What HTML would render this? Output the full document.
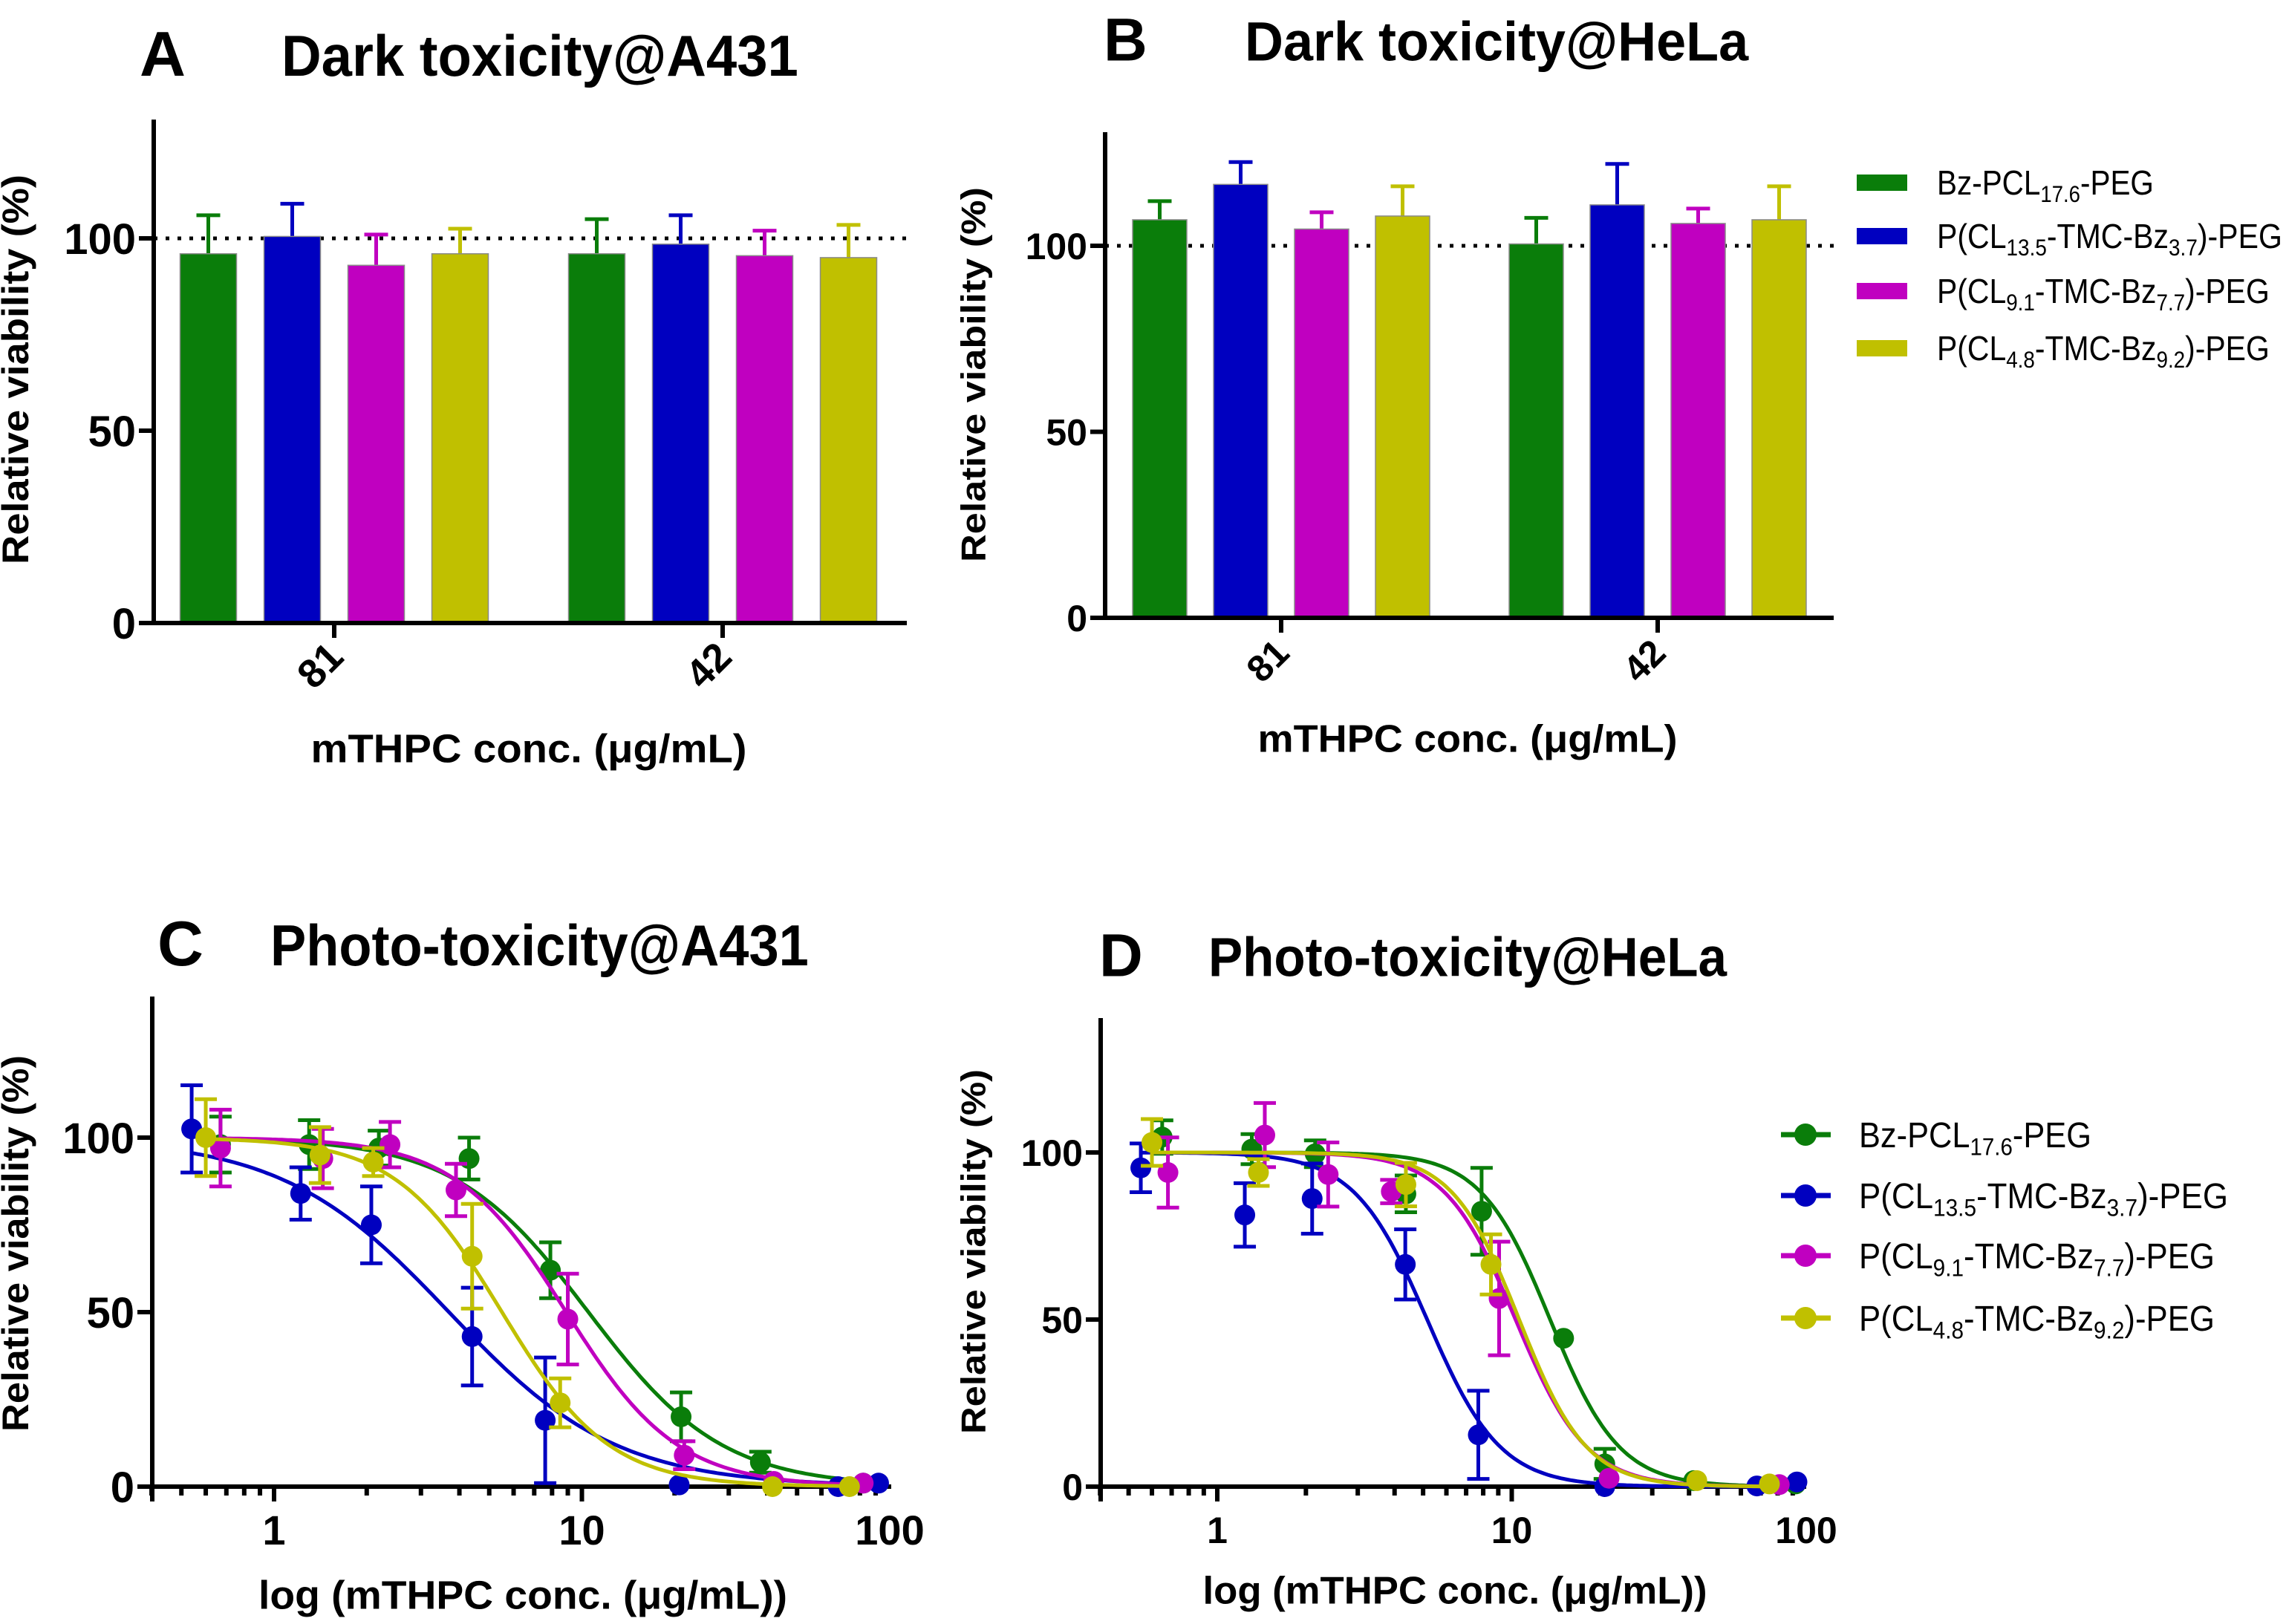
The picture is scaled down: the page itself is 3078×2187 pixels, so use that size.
<!DOCTYPE html>
<html><head><meta charset="utf-8">
<style>
html,body{margin:0;padding:0;background:#fff;}
svg{display:block;}
text{font-family:"Liberation Sans",Arial,sans-serif;fill:#000;}
</style></head>
<body>
<svg id="fig" width="3078" height="2187" viewBox="0 0 3078 2187" xmlns="http://www.w3.org/2000/svg">
<rect width="3078" height="2187" fill="#fff"/>
<g id="pA"></g>
<g id="pB"></g>
<g id="pC"></g>
<g id="pD"></g>
</svg>
<script>
// ---------- data ----------
const seriesNames = ["Bz-PCL17.6-PEG","P(CL13.5-TMC-Bz3.7)-PEG","P(CL9.1-TMC-Bz7.7)-PEG","P(CL4.8-TMC-Bz9.2)-PEG"];
const seriesColors = ["#0a7d0a","#0000c0","#c000c0","#c0c000"];
const barCategories = ["81","42"];
const yTicks = [0,50,100];
// Panel A (A431 dark)
const aMeans = [[96,96],[100.5,98.5],[93,95.5],[96,95]];
const aErr   = [[10,9],[8.5,7.5],[8,6.5],[6.5,8.5]];
// Panel B (HeLa dark)
const bMeans = [[107,100.5],[116.5,111],[104.5,106],[108,107]];
const bErr   = [[5,7],[6,11],[4.5,4],[8,9]];
// Panel C (A431 photo)
const cX = [[0.67,1.30,2.19,4.3,7.9,21,38,82],[0.54,1.22,2.07,4.4,7.6,20.7,68,92],[0.67,1.44,2.38,3.9,9.0,21.5,42,82],[0.60,1.41,2.1,4.4,8.5,41.6,74]];
const cY = [[98,98,97,94,62,20,7,1],[102.5,84,75,43,19,0.5,0,1],[97,94,98,85,48,9,1.5,1],[100,95,93,66,24,0,0]];
const cE = [[8,7,5,6,8,7,3,0],[12.5,7.5,11,14,18,0,0,0],[11,8.5,6.5,7.5,13,4,0,0],[11,8,4,15,7,0,0]];
const cIC50 = [10.5,3.7,8.9,5.5];
const cHill = [2.0,1.6,2.4,2.5];
// Panel D (HeLa photo)
const dX = [[0.65,1.31,2.15,4.37,7.9,15,20.7,41.5,92],[0.55,1.24,2.1,4.35,7.7,20.7,68,93],[0.68,1.45,2.38,3.9,9.06,21.4,81],[0.60,1.38,4.37,8.5,42.5,75]];
const dY = [[104.6,101,99.6,87.6,82.4,44.4,6.8,1.8,0.8],[95.4,81.3,86.2,66.5,15.5,0,0.2,1.4],[94,105.2,93.4,88.3,56.3,2.5,0.6],[103,94,90.4,66.5,1.8,0.8]];
const dE = [[5,4.5,4,5.5,13,0,4.5,0,0],[7.3,9.5,10.5,10.5,13.2,0,0,0],[10.5,9.6,9.6,3.5,17,0,0],[7,4,6.5,9,0,0]];
const dIC50 = [13.5,5.16,10.3,10.6];
const dHill = [3.7,3.5,3.6,3.8];
const logTicks = [1,10,100];

// ---------- helpers ----------
const NS = "http://www.w3.org/2000/svg";
function mk(parent, tag, attrs){ const e=document.createElementNS(NS,tag); for(const k in attrs) e.setAttribute(k,attrs[k]); parent.appendChild(e); return e; }
function label(parent, s, x, y, size, opts){
  opts=opts||{};
  const t = mk(parent,'text',{x:x,y:y,'font-size':size});
  if(opts.bold) t.setAttribute('font-weight','bold');
  if(opts.anchor) t.setAttribute('text-anchor',opts.anchor);
  const parts = s.split(/(_\{[^}]*\})/);
  let sub=false;
  parts.forEach(p=>{
    if(!p) return;
    const ts = mk(t,'tspan',{});
    if(p.startsWith('_{')){ ts.textContent=p.slice(2,-1); ts.setAttribute('font-size',size*0.68); ts.setAttribute('dy',size*0.22); sub=true; }
    else { ts.textContent=p; if(sub){ ts.setAttribute('dy',-size*0.22); sub=false; } }
  });
  return t;
}
function fitW(t, x, w){
  const bb=t.getBBox(); const s=w/bb.width;
  t.setAttribute('transform',`translate(${x},0) scale(${s},1) translate(${-x},0)`);
}
const legendLabels = ["Bz-PCL_{17.6}-PEG","P(CL_{13.5}-TMC-Bz_{3.7})-PEG","P(CL_{9.1}-TMC-Bz_{7.7})-PEG","P(CL_{4.8}-TMC-Bz_{9.2})-PEG"];

function yAxis(g, ax, yS, tickSize, titleX, titleTop, titleBot, titleSize){
  mk(g,'line',{x1:ax.x0,y1:ax.top,x2:ax.x0,y2:ax.y0+3,stroke:'#000','stroke-width':6});
  yTicks.forEach(v=>{
    const y=yS(v);
    const tk=mk(g,'line',{x1:ax.x0-20,y1:y,x2:ax.x0,y2:y,stroke:'#000','stroke-width':6});
    
    
    const t=label(g,String(v),ax.x0-24,y+tickSize*0.36,tickSize,{bold:true,anchor:'end'});
    
    
  });
  const cy=(titleTop+titleBot)/2;
  const t=mk(g,'text',{x:0,y:0,'font-size':titleSize,'font-weight':'bold','text-anchor':'middle',
    transform:`translate(${titleX+titleSize*0.36},${cy}) rotate(-90)`,textLength:titleBot-titleTop,lengthAdjust:'spacingAndGlyphs'});
  t.textContent='Relative viability (%)';
  
  
}
function titles(g, letter, lx, title, tx, tw, cy, size){
  const a=label(g,letter,lx,cy+size*0.36,size*1.1,{bold:true});
  
  
  const t=label(g,title,tx,cy+size*0.36,size,{bold:true});
  
  
  fitW(t,tx,tw);
}
function xTitle(g, s, cx, cy, w, size){
  const t=mk(g,'text',{x:cx,y:cy+size*0.36,'font-size':size,'font-weight':'bold','text-anchor':'middle',textLength:w,lengthAdjust:'spacingAndGlyphs'});
  t.textContent=s;
  
  
}

function barPanel(g, ax, means, errs, pitch, bw, fonts){
  const yS=v=>ax.y0-(v/100)*ax.h100;
  const catX=k=>ax.firstCat+k*ax.catGap;
  const dl=mk(g,'line',{x1:ax.x0,y1:yS(100),x2:ax.x1,y2:yS(100),stroke:'#000','stroke-width':5,'stroke-dasharray':'5 11'});
  
  
  barCategories.forEach((c,k)=>{
    means.forEach((ser,i)=>{
      const cx=catX(k)+(i-1.5)*pitch, v=ser[k], e=errs[i][k];
      const col=seriesColors[i];
      const eb=mk(g,'path',{d:`M${cx},${yS(v)} V${yS(v+e)} M${cx-16},${yS(v+e)} H${cx+16}`,stroke:col,'stroke-width':5,fill:'none'});
      
      
      const r=mk(g,'rect',{x:cx-bw/2,y:yS(v),width:bw,height:yS(0)-yS(v),fill:col,stroke:'#8a8a8a','stroke-width':1.5});
      
      
    });
    const tk=mk(g,'line',{x1:catX(k),y1:ax.y0,x2:catX(k),y2:ax.y0+20,stroke:'#000','stroke-width':6});
    
    
    const tl=mk(g,'text',{x:0,y:0,'font-size':fonts.tick,'font-weight':'bold','text-anchor':'middle',transform:`translate(${catX(k)-6},${ax.y0+70}) rotate(-45)`});
    tl.textContent=c;
    
    
  });
  mk(g,'line',{x1:ax.x0-20,y1:ax.y0,x2:ax.x1,y2:ax.y0,stroke:'#000','stroke-width':6});
  return yS;
}

function curvePanel(g, ax, X, Y, E, IC, H, fonts){
  const yS=v=>ax.y0-(v/100)*ax.h100;
  const xS=v=>ax.one+Math.log10(v)*ax.dec;
  mk(g,'line',{x1:ax.x0-20,y1:ax.y0,x2:ax.x1,y2:ax.y0,stroke:'#000','stroke-width':6});
  for(let d=-1; d<=1; d++){
    for(let m=1;m<=9;m++){
      const v=m*Math.pow(10,d);
      const x=xS(v); if(x<ax.x0-1||x>ax.x1+1) continue;
      const major=(m===1);
      const tk=mk(g,'line',{x1:x,y1:ax.y0,x2:x,y2:ax.y0+(major?20:12),stroke:'#000','stroke-width':6});
      
      
    }
  }
  mk(g,'line',{x1:ax.x0,y1:ax.y0,x2:ax.x0,y2:ax.y0+20,stroke:'#000','stroke-width':6});
  logTicks.forEach(v=>{
    const t=label(g,String(v),xS(v),ax.y0+58+fonts.tick*0.36,fonts.tick,{bold:true,anchor:'middle'});
    
    
  });
  X.forEach((xs,i)=>{
    const col=seriesColors[i];
    const lo=Math.log10(Math.min(...xs)), hi=Math.log10(Math.max(...xs));
    let d='';
    for(let s=0;s<=200;s++){
      const lv=lo+(hi-lo)*s/200, v=Math.pow(10,lv);
      const yv=100/(1+Math.pow(v/IC[i],H[i]));
      d+=(s?'L':'M')+xS(v).toFixed(1)+','+yS(yv).toFixed(1);
    }
    const c=mk(g,'path',{d:d,stroke:col,'stroke-width':5,fill:'none'});
    
    
    xs.forEach((xv,j)=>{
      const cx=xS(xv), v=Y[i][j], e=E[i][j];
      if(e>0){
        const eb=mk(g,'path',{d:`M${cx},${yS(Math.max(0,v-e))} V${yS(v+e)} M${cx-15},${yS(v+e)} H${cx+15} M${cx-15},${yS(Math.max(0,v-e))} H${cx+15}`,stroke:col,'stroke-width':5,fill:'none'});
        
        
      }
      const p=mk(g,'circle',{cx:cx,cy:yS(v),r:14,fill:col});
      
      
    });
  });
  mk(g,'line',{x1:ax.x0,y1:ax.top,x2:ax.x0,y2:ax.y0+3,stroke:'#000','stroke-width':6});
  return yS;
}

// ---------- Panel A ----------
(function(){
  const g=document.getElementById('pA');
  const ax={x0:207,x1:1221,top:161,y0:839,h100:518,firstCat:450,catGap:523};
  const yS=barPanel(g,ax,aMeans,aErr,113,76,{tick:54});
  yAxis(g,ax,yS,58,20,235,760,50);
  titles(g,'A',188,'Dark toxicity@A431',379,696,74,78);
  xTitle(g,'mTHPC conc. (\u03bcg/mL)',712,1007,587,54);
})();
// ---------- Panel B ----------
(function(){
  const g=document.getElementById('pB');
  const ax={x0:1488,x1:2469,top:178,y0:832,h100:501,firstCat:1725,catGap:507};
  const yS=barPanel(g,ax,bMeans,bErr,109,73,{tick:50});
  yAxis(g,ax,yS,50,1310,252,757,46);
  titles(g,'B',1486,'Dark toxicity@HeLa',1676,679,55,74);
  xTitle(g,'mTHPC conc. (\u03bcg/mL)',1976,994,565,52);
  const lw=[292,465,448,448], ly=[246,318,392,469];
  seriesColors.forEach((col,i)=>{
    const e=mk(g,'g',{});
    
    
    mk(e,'rect',{x:2500,y:ly[i]-11,width:68,height:22,fill:col});
    const t=label(e,legendLabels[i],2608,ly[i]+16,46,{});
    fitW(t,2608,lw[i]);
  });
})();
// ---------- Panel C ----------
(function(){
  const g=document.getElementById('pC');
  const ax={x0:205,x1:1200,top:1342,y0:2002,h100:470,one:369,dec:414.5};
  const yS=curvePanel(g,ax,cX,cY,cE,cIC50,cHill,{tick:56});
  yAxis(g,ax,yS,58,20,1421,1928,50);
  titles(g,'C',212,'Photo-toxicity@A431',364,725,1272,78);
  xTitle(g,'log (mTHPC conc. (\u03bcg/mL))',704,2147,712,54);
})();
// ---------- Panel D ----------
(function(){
  const g=document.getElementById('pD');
  const ax={x0:1482,x1:2432,top:1371,y0:2002,h100:450,one:1639,dec:396.5};
  const yS=curvePanel(g,ax,dX,dY,dE,dIC50,dHill,{tick:50});
  yAxis(g,ax,yS,50,1310,1440,1931,46);
  titles(g,'D',1480,'Photo-toxicity@HeLa',1627,699,1288,74);
  xTitle(g,'log (mTHPC conc. (\u03bcg/mL))',1959,2141,679,52);
  const lw=[313,497,479,479], ly=[1528,1610,1691,1775];
  seriesColors.forEach((col,i)=>{
    const e=mk(g,'g',{});
    
    
    mk(e,'line',{x1:2398,y1:ly[i],x2:2465,y2:ly[i],stroke:col,'stroke-width':7});
    mk(e,'circle',{cx:2431,cy:ly[i],r:15,fill:col});
    const t=label(e,legendLabels[i],2503,ly[i]+17,48,{});
    fitW(t,2503,lw[i]);
  });
})();
</script>
</body></html>
